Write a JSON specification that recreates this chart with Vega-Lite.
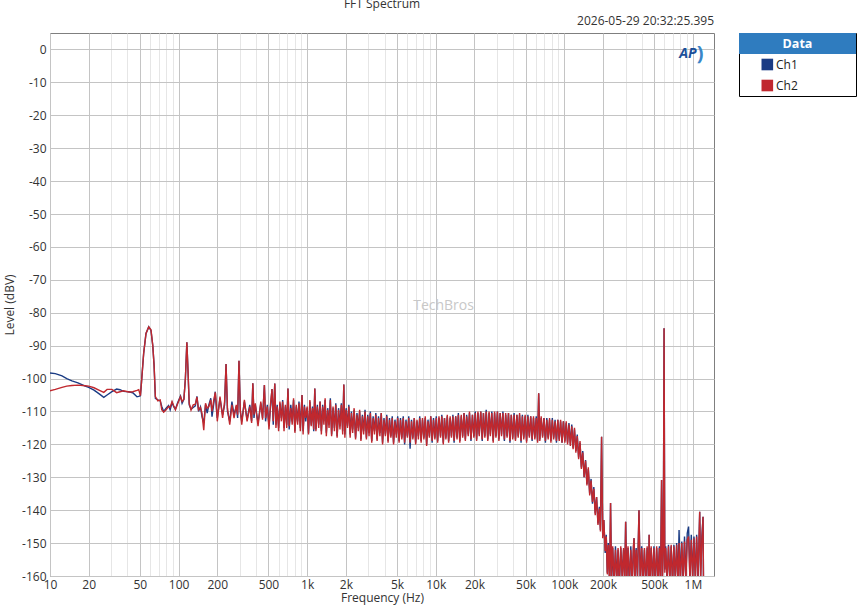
{
  "$schema": "https://vega.github.io/schema/vega-lite/v6.json",
  "background": "white",
  "padding": {"left": 3, "top": -3, "right": 4, "bottom": 2},
  "bounds": "flush",
  "spacing": 25,
  "config": {
    "font": "Open Sans",
    "view": {"stroke": "#7f7f7f", "strokeWidth": 1},
    "axis": {
      "labelFont": "Open Sans", "labelFontSize": 12, "labelColor": "#333",
      "titleFont": "Open Sans", "titleFontSize": 12, "titleFontWeight": "normal", "titleColor": "#333",
      "ticks": false, "domain": false, "gridOpacity": 1, "gridWidth": 1
    },
    "title": {"font": "Open Sans", "fontSize": 12, "fontWeight": "normal", "color": "#333"}
  },
  "datasets": {
    "fft": [
      {"f":10,"Ch1":-98.3,"Ch2":-103.7},{"f":11,"Ch1":-98.5,"Ch2":-103.3},{"f":12.4,"Ch1":-99.2,"Ch2":-102.7},
      {"f":13.5,"Ch1":-100,"Ch2":-102.3},{"f":14.8,"Ch1":-100.7,"Ch2":-102.1},{"f":16.5,"Ch1":-101.3,"Ch2":-102},
      {"f":18.8,"Ch1":-102.3,"Ch2":-102.2},{"f":20,"Ch1":-102.7,"Ch2":-102.3},{"f":22,"Ch1":-103.5,"Ch2":-102.8},
      {"f":24,"Ch1":-104.6,"Ch2":-103.5},{"f":26.2,"Ch1":-105.7,"Ch2":-104.2},{"f":27.8,"Ch1":-105,"Ch2":-103.3},
      {"f":30.3,"Ch1":-104,"Ch2":-103.3},{"f":33,"Ch1":-103.2,"Ch2":-104.3},{"f":35,"Ch1":-103.4,"Ch2":-104},
      {"f":37.4,"Ch1":-103.9,"Ch2":-103.7},{"f":41,"Ch1":-104,"Ch2":-104.1},{"f":44,"Ch1":-104.3,"Ch2":-104},
      {"f":47.5,"Ch1":-105.5,"Ch2":-103.6},{"f":49,"Ch1":-105.4,"Ch2":-103.4},{"f":50.5,"Ch1":-105.2,"Ch2":-105.2},
      {"f":51.5,"Ch1":-101,"Ch2":-101},{"f":53.5,"Ch1":-92.4,"Ch2":-92.4},{"f":55.8,"Ch1":-86.3,"Ch2":-86.3},
      {"f":58.6,"Ch1":-84.3,"Ch2":-84.3},{"f":61,"Ch1":-85.4,"Ch2":-85.2},{"f":63,"Ch1":-90,"Ch2":-90},
      {"f":64.5,"Ch1":-96,"Ch2":-96},{"f":66,"Ch1":-106,"Ch2":-105.5},{"f":69,"Ch1":-106.5,"Ch2":-106.8},
      {"f":72,"Ch1":-106.8,"Ch2":-106.5},{"f":74,"Ch1":-108.5,"Ch2":-109.5},{"f":76.6,"Ch1":-110,"Ch2":-110.2},
      {"f":80,"Ch1":-109,"Ch2":-109.5},{"f":83.6,"Ch1":-108.2,"Ch2":-108.5},{"f":86,"Ch1":-109.5,"Ch2":-108.8},
      {"f":89,"Ch1":-107.3,"Ch2":-107},{"f":91.5,"Ch1":-108.5,"Ch2":-108.2},{"f":94.5,"Ch1":-109.3,"Ch2":-109.5},
      {"f":98,"Ch1":-107.5,"Ch2":-107.8},{"f":103.5,"Ch1":-105.3,"Ch2":-105.5},{"f":106.5,"Ch1":-107.5,"Ch2":-107},
      {"f":110,"Ch1":-106.3,"Ch2":-106.3},{"f":113,"Ch1":-100,"Ch2":-100},{"f":116,"Ch1":-89,"Ch2":-89},
      {"f":118.5,"Ch1":-98,"Ch2":-98},{"f":121,"Ch1":-108,"Ch2":-107.5},{"f":125,"Ch1":-109.3,"Ch2":-109.6},
      {"f":130,"Ch1":-108.8,"Ch2":-108},{"f":135,"Ch1":-108.3,"Ch2":-107.8},{"f":139,"Ch1":-105.4,"Ch2":-105.6},
      {"f":143,"Ch1":-110,"Ch2":-109.5},{"f":148,"Ch1":-108.6,"Ch2":-108.8},{"f":152,"Ch1":-111.5,"Ch2":-110.5},
      {"f":157,"Ch1":-113.5,"Ch2":-115.7},{"f":162,"Ch1":-108,"Ch2":-107.5},{"f":167,"Ch1":-110.5,"Ch2":-109},
      {"f":172,"Ch1":-108,"Ch2":-108.5},{"f":178,"Ch1":-106,"Ch2":-106.5},{"f":182,"Ch1":-111.6,"Ch2":-110},
      {"f":188,"Ch1":-107.5,"Ch2":-106.5},{"f":193,"Ch1":-104,"Ch2":-104.2},{"f":197,"Ch1":-109.5,"Ch2":-108},
      {"f":200,"Ch1":-112,"Ch2":-113},{"f":210,"Ch1":-106,"Ch2":-105.5},{"f":220,"Ch1":-111,"Ch2":-112},
      {"f":228,"Ch1":-108,"Ch2":-107},{"f":234,"Ch1":-95.6,"Ch2":-95.6},{"f":240,"Ch1":-110,"Ch2":-109},
      {"f":250,"Ch1":-113,"Ch2":-114},{"f":260,"Ch1":-107,"Ch2":-108},{"f":270,"Ch1":-111,"Ch2":-112},
      {"f":281,"Ch1":-108.5,"Ch2":-108},{"f":288,"Ch1":-112,"Ch2":-111},{"f":295,"Ch1":-94.6,"Ch2":-94.6},
      {"f":302,"Ch1":-110,"Ch2":-109.5},{"f":310,"Ch1":-113,"Ch2":-114},{"f":325,"Ch1":-107,"Ch2":-106.5},
      {"f":341,"Ch1":-112.5,"Ch2":-113},{"f":358,"Ch1":-108,"Ch2":-108.5},{"f":370,"Ch1":-113,"Ch2":-113.5},
      {"f":378,"Ch1":-101.4,"Ch2":-101.4},{"f":386,"Ch1":-112,"Ch2":-111},{"f":395,"Ch1":-108,"Ch2":-107.5},
      {"f":415,"Ch1":-113.5,"Ch2":-114.5},{"f":436,"Ch1":-107.5,"Ch2":-107},{"f":450,"Ch1":-112,"Ch2":-112.5},
      {"f":465,"Ch1":-102,"Ch2":-102},{"f":475,"Ch1":-113,"Ch2":-112},{"f":490,"Ch1":-108,"Ch2":-108.5},
      {"f":505,"Ch1":-114.5,"Ch2":-115.5},{"f":518,"Ch1":-109,"Ch2":-108},{"f":533,"Ch1":-103.2,"Ch2":-103.2},
      {"f":545,"Ch1":-114,"Ch2":-113},{"f":560,"Ch1":-101.5,"Ch2":-101.5},{"f":572,"Ch1":-114,"Ch2":-115},
      {"f":585,"Ch1":-108,"Ch2":-108.5},{"f":600,"Ch1":-115,"Ch2":-116},{"f":614,"Ch1":-107.5,"Ch2":-107},
      {"f":630,"Ch1":-112,"Ch2":-113},{"f":645,"Ch1":-106.5,"Ch2":-107},{"f":661,"Ch1":-115,"Ch2":-116},
      {"f":677,"Ch1":-108.5,"Ch2":-108},{"f":694,"Ch1":-114,"Ch2":-115},{"f":709,"Ch1":-103,"Ch2":-103},
      {"f":725,"Ch1":-115.5,"Ch2":-114.5},{"f":746,"Ch1":-108,"Ch2":-109},{"f":765,"Ch1":-113,"Ch2":-114},
      {"f":784,"Ch1":-106.5,"Ch2":-106},{"f":803,"Ch1":-116,"Ch2":-116.5},{"f":823,"Ch1":-108.5,"Ch2":-108},
      {"f":843,"Ch1":-113,"Ch2":-114},{"f":864,"Ch1":-107,"Ch2":-107.5},{"f":885,"Ch1":-115,"Ch2":-116},
      {"f":912,"Ch1":-105,"Ch2":-105},{"f":930,"Ch1":-116,"Ch2":-117},{"f":952,"Ch1":-108,"Ch2":-108.5},
      {"f":975,"Ch1":-113,"Ch2":-112},{"f":1000,"Ch1":-109,"Ch2":-108.5},{"f":1025,"Ch1":-116.5,"Ch2":-117},
      {"f":1050,"Ch1":-107,"Ch2":-106.5},{"f":1075,"Ch1":-114,"Ch2":-114.5},{"f":1100,"Ch1":-108.5,"Ch2":-109},
      {"f":1125,"Ch1":-116,"Ch2":-115.5},{"f":1147,"Ch1":-103,"Ch2":-103},{"f":1170,"Ch1":-115.5,"Ch2":-116},
      {"f":1200,"Ch1":-108,"Ch2":-108.5},{"f":1230,"Ch1":-114,"Ch2":-115},{"f":1260,"Ch1":-107,"Ch2":-107},
      {"f":1290,"Ch1":-116,"Ch2":-117},{"f":1320,"Ch1":-108,"Ch2":-108.5},{"f":1350,"Ch1":-113,"Ch2":-114},
      {"f":1380,"Ch1":-106.5,"Ch2":-106},{"f":1410,"Ch1":-116.5,"Ch2":-117.5},{"f":1445,"Ch1":-109,"Ch2":-109.5},
      {"f":1480,"Ch1":-114,"Ch2":-115},{"f":1515,"Ch1":-106,"Ch2":-106.5},{"f":1550,"Ch1":-117,"Ch2":-117.5},
      {"f":1590,"Ch1":-109,"Ch2":-108.5},{"f":1630,"Ch1":-115,"Ch2":-116},{"f":1670,"Ch1":-107.5,"Ch2":-108},
      {"f":1710,"Ch1":-117.5,"Ch2":-118},{"f":1755,"Ch1":-109,"Ch2":-109.5},{"f":1800,"Ch1":-114.5,"Ch2":-115.5},
      {"f":1845,"Ch1":-107.5,"Ch2":-108},{"f":1890,"Ch1":-116,"Ch2":-117},{"f":1928,"Ch1":-101.8,"Ch2":-101.8},
      {"f":1965,"Ch1":-117,"Ch2":-118},{"f":2010,"Ch1":-109,"Ch2":-109.5},{"f":2060,"Ch1":-114.5,"Ch2":-115},
      {"f":2110,"Ch1":-108,"Ch2":-108.5},{"f":2160,"Ch1":-117,"Ch2":-118},{"f":2210,"Ch1":-110,"Ch2":-110.5},
      {"f":2260,"Ch1":-115.5,"Ch2":-116.5},{"f":2320,"Ch1":-109.5,"Ch2":-109},{"f":2380,"Ch1":-118,"Ch2":-118.5},
      {"f":2440,"Ch1":-110.5,"Ch2":-111},{"f":2500,"Ch1":-115,"Ch2":-116},{"f":2560,"Ch1":-110,"Ch2":-109.5},
      {"f":2620,"Ch1":-118.5,"Ch2":-119},{"f":2690,"Ch1":-111,"Ch2":-111.5},{"f":2750,"Ch1":-116,"Ch2":-117},
      {"f":2820,"Ch1":-109.5,"Ch2":-110},{"f":2890,"Ch1":-118,"Ch2":-118.5},{"f":2960,"Ch1":-111,"Ch2":-111.5},
      {"f":3030,"Ch1":-116.5,"Ch2":-117.5},{"f":3100,"Ch1":-110,"Ch2":-110.5},{"f":3180,"Ch1":-119,"Ch2":-119.5},
      {"f":3260,"Ch1":-111.5,"Ch2":-112},{"f":3340,"Ch1":-116,"Ch2":-117},{"f":3420,"Ch1":-110.5,"Ch2":-111},
      {"f":3500,"Ch1":-118.5,"Ch2":-119},{"f":3590,"Ch1":-111.5,"Ch2":-112},{"f":3680,"Ch1":-116.5,"Ch2":-117.5},
      {"f":3770,"Ch1":-110.5,"Ch2":-110.5},{"f":3860,"Ch1":-119.5,"Ch2":-120},{"f":3960,"Ch1":-112,"Ch2":-112.5},
      {"f":4060,"Ch1":-117,"Ch2":-117.5},{"f":4160,"Ch1":-111,"Ch2":-111.5},{"f":4260,"Ch1":-119,"Ch2":-119.5},
      {"f":4370,"Ch1":-112,"Ch2":-112.5},{"f":4480,"Ch1":-117.5,"Ch2":-118},{"f":4590,"Ch1":-111.5,"Ch2":-112},
      {"f":4700,"Ch1":-119.5,"Ch2":-120},{"f":4820,"Ch1":-112.5,"Ch2":-113},{"f":4940,"Ch1":-117,"Ch2":-118},
      {"f":5060,"Ch1":-111.5,"Ch2":-112},{"f":5190,"Ch1":-119,"Ch2":-119.5},{"f":5320,"Ch1":-112,"Ch2":-112.5},
      {"f":5450,"Ch1":-118,"Ch2":-118.5},{"f":5590,"Ch1":-111.5,"Ch2":-112},{"f":5730,"Ch1":-120,"Ch2":-119.5},
      {"f":5870,"Ch1":-112.5,"Ch2":-113},{"f":6020,"Ch1":-117.5,"Ch2":-118},{"f":6170,"Ch1":-111.5,"Ch2":-112},
      {"f":6320,"Ch1":-121.3,"Ch2":-119.5},{"f":6480,"Ch1":-112.5,"Ch2":-113},{"f":6640,"Ch1":-118,"Ch2":-118.5},
      {"f":6810,"Ch1":-112,"Ch2":-112},{"f":6980,"Ch1":-119.5,"Ch2":-120},{"f":7150,"Ch1":-113,"Ch2":-112.5},
      {"f":7330,"Ch1":-117.5,"Ch2":-118.5},{"f":7510,"Ch1":-111.5,"Ch2":-112},{"f":7700,"Ch1":-119,"Ch2":-119.5},
      {"f":7890,"Ch1":-112.5,"Ch2":-112},{"f":8090,"Ch1":-118,"Ch2":-118.5},{"f":8290,"Ch1":-112,"Ch2":-111.5},
      {"f":8500,"Ch1":-120,"Ch2":-120.5},{"f":8710,"Ch1":-112.5,"Ch2":-113},{"f":8930,"Ch1":-117.5,"Ch2":-118},
      {"f":9150,"Ch1":-111.5,"Ch2":-111.5},{"f":9380,"Ch1":-119.5,"Ch2":-119},{"f":9610,"Ch1":-112,"Ch2":-112.5},
      {"f":9850,"Ch1":-118,"Ch2":-118.5},{"f":10100,"Ch1":-111.5,"Ch2":-112},{"f":10350,"Ch1":-119,"Ch2":-119.5},
      {"f":10600,"Ch1":-112,"Ch2":-111.5},{"f":10900,"Ch1":-117.5,"Ch2":-118},{"f":11150,"Ch1":-111,"Ch2":-111.5},
      {"f":11450,"Ch1":-119.5,"Ch2":-120},{"f":11700,"Ch1":-112,"Ch2":-112},{"f":12000,"Ch1":-118,"Ch2":-118.5},
      {"f":12300,"Ch1":-111.5,"Ch2":-111},{"f":12600,"Ch1":-119,"Ch2":-119.5},{"f":12950,"Ch1":-112,"Ch2":-111.5},
      {"f":13250,"Ch1":-117.5,"Ch2":-118},{"f":13600,"Ch1":-111,"Ch2":-111.5},{"f":13900,"Ch1":-119.5,"Ch2":-119},
      {"f":14300,"Ch1":-111.5,"Ch2":-111.5},{"f":14650,"Ch1":-118,"Ch2":-118.5},{"f":15000,"Ch1":-110.5,"Ch2":-111},
      {"f":15400,"Ch1":-119,"Ch2":-119.5},{"f":15800,"Ch1":-111.5,"Ch2":-111},{"f":16200,"Ch1":-117.5,"Ch2":-118},
      {"f":16600,"Ch1":-110.5,"Ch2":-110.5},{"f":17000,"Ch1":-118.5,"Ch2":-119},{"f":17400,"Ch1":-111,"Ch2":-111.5},
      {"f":17900,"Ch1":-117,"Ch2":-117.5},{"f":18300,"Ch1":-110.5,"Ch2":-110},{"f":18800,"Ch1":-119,"Ch2":-118.5},
      {"f":19300,"Ch1":-111,"Ch2":-111},{"f":19800,"Ch1":-117.5,"Ch2":-118},{"f":20300,"Ch1":-110,"Ch2":-110.5},
      {"f":20800,"Ch1":-118.5,"Ch2":-119},{"f":21300,"Ch1":-110.5,"Ch2":-110},{"f":21800,"Ch1":-117,"Ch2":-117.5},
      {"f":22400,"Ch1":-110,"Ch2":-110},{"f":23000,"Ch1":-119,"Ch2":-118.5},{"f":23500,"Ch1":-110.5,"Ch2":-110.5},
      {"f":24100,"Ch1":-117.5,"Ch2":-118},{"f":24700,"Ch1":-109.5,"Ch2":-110},{"f":25400,"Ch1":-118.5,"Ch2":-119},
      {"f":26000,"Ch1":-110.5,"Ch2":-110},{"f":26600,"Ch1":-117,"Ch2":-117.5},{"f":27300,"Ch1":-110,"Ch2":-110.5},
      {"f":28000,"Ch1":-119,"Ch2":-119.5},{"f":28700,"Ch1":-110.5,"Ch2":-110},{"f":29400,"Ch1":-117.5,"Ch2":-118},
      {"f":30200,"Ch1":-110,"Ch2":-110},{"f":31000,"Ch1":-118.5,"Ch2":-119},{"f":31700,"Ch1":-110.5,"Ch2":-110.5},
      {"f":32500,"Ch1":-117,"Ch2":-117.5},{"f":33300,"Ch1":-110,"Ch2":-110.5},{"f":34200,"Ch1":-119,"Ch2":-118.5},
      {"f":35000,"Ch1":-111,"Ch2":-110.5},{"f":35900,"Ch1":-117.5,"Ch2":-118},{"f":36800,"Ch1":-110.5,"Ch2":-110.5},
      {"f":37800,"Ch1":-119.5,"Ch2":-119},{"f":38700,"Ch1":-111,"Ch2":-111},{"f":39700,"Ch1":-118,"Ch2":-118.5},
      {"f":40700,"Ch1":-110.5,"Ch2":-111},{"f":41700,"Ch1":-118.5,"Ch2":-119},{"f":42800,"Ch1":-111,"Ch2":-111},
      {"f":43800,"Ch1":-117.5,"Ch2":-118},{"f":44900,"Ch1":-111,"Ch2":-110.5},{"f":46100,"Ch1":-119.5,"Ch2":-119},
      {"f":47200,"Ch1":-111,"Ch2":-111.5},{"f":48400,"Ch1":-118,"Ch2":-118.5},{"f":49600,"Ch1":-111.5,"Ch2":-111},
      {"f":50900,"Ch1":-119,"Ch2":-119.5},{"f":52100,"Ch1":-111,"Ch2":-111.5},{"f":53500,"Ch1":-117.5,"Ch2":-118},
      {"f":54800,"Ch1":-111.5,"Ch2":-111.5},{"f":56200,"Ch1":-119,"Ch2":-118.5},{"f":57600,"Ch1":-112,"Ch2":-111.5},
      {"f":59000,"Ch1":-118,"Ch2":-118.5},{"f":60500,"Ch1":-111.5,"Ch2":-112},{"f":62000,"Ch1":-119,"Ch2":-119.5},
      {"f":63200,"Ch1":-104.5,"Ch2":-104.5},{"f":64500,"Ch1":-118.5,"Ch2":-119},{"f":66100,"Ch1":-112,"Ch2":-111.5},
      {"f":67800,"Ch1":-117.5,"Ch2":-118},{"f":69500,"Ch1":-112,"Ch2":-112},{"f":71300,"Ch1":-119.5,"Ch2":-119},
      {"f":73100,"Ch1":-112,"Ch2":-112.5},{"f":74900,"Ch1":-118,"Ch2":-118.5},{"f":76800,"Ch1":-112.5,"Ch2":-112},
      {"f":78700,"Ch1":-119,"Ch2":-119.5},{"f":80700,"Ch1":-112,"Ch2":-112.5},{"f":82700,"Ch1":-118,"Ch2":-118.5},
      {"f":84800,"Ch1":-112.5,"Ch2":-113},{"f":86900,"Ch1":-119.5,"Ch2":-119},{"f":89100,"Ch1":-112.5,"Ch2":-112.5},
      {"f":91300,"Ch1":-118.5,"Ch2":-119},{"f":93600,"Ch1":-113,"Ch2":-112.5},{"f":96000,"Ch1":-119.5,"Ch2":-119.5},
      {"f":98400,"Ch1":-113,"Ch2":-113},{"f":101000,"Ch1":-119,"Ch2":-119.5},{"f":103500,"Ch1":-113.5,"Ch2":-113},
      {"f":106000,"Ch1":-119.5,"Ch2":-120},{"f":108700,"Ch1":-113.5,"Ch2":-114},{"f":111500,"Ch1":-120,"Ch2":-120.5},
      {"f":114300,"Ch1":-114,"Ch2":-114.5},{"f":117100,"Ch1":-121,"Ch2":-121.5},{"f":120000,"Ch1":-115.5,"Ch2":-115},
      {"f":123000,"Ch1":-122,"Ch2":-122.5},{"f":126100,"Ch1":-117,"Ch2":-117.5},{"f":129300,"Ch1":-124,"Ch2":-124.5},
      {"f":132500,"Ch1":-119.5,"Ch2":-119},{"f":135800,"Ch1":-127,"Ch2":-127.5},{"f":139200,"Ch1":-122,"Ch2":-122.5},
      {"f":142700,"Ch1":-130,"Ch2":-130},{"f":146300,"Ch1":-124.8,"Ch2":-125},{"f":150000,"Ch1":-132,"Ch2":-132.5},
      {"f":153700,"Ch1":-127.5,"Ch2":-127},{"f":157600,"Ch1":-135,"Ch2":-135.5},{"f":161500,"Ch1":-130.5,"Ch2":-131},
      {"f":165600,"Ch1":-138,"Ch2":-137.5},{"f":169700,"Ch1":-133,"Ch2":-133.5},{"f":174000,"Ch1":-141,"Ch2":-141.5},
      {"f":178300,"Ch1":-136,"Ch2":-136},{"f":182800,"Ch1":-144,"Ch2":-144.5},{"f":187400,"Ch1":-139,"Ch2":-139.5},
      {"f":191000,"Ch1":-146,"Ch2":-146.5},{"f":195000,"Ch1":-117.7,"Ch2":-117.7},{"f":199000,"Ch1":-148,"Ch2":-148.5},
      {"f":203000,"Ch1":-143,"Ch2":-143},{"f":208000,"Ch1":-153,"Ch2":-152.5},{"f":212000,"Ch1":-147.5,"Ch2":-148},
      {"f":216000,"Ch1":-159,"Ch2":-159.5},{"f":220000,"Ch1":-150,"Ch2":-150.5},{"f":225000,"Ch1":-162,"Ch2":-163},
      {"f":229000,"Ch1":-137.8,"Ch2":-137.8},{"f":233000,"Ch1":-162,"Ch2":-161},{"f":238000,"Ch1":-151.5,"Ch2":-151},
      {"f":244000,"Ch1":-163,"Ch2":-162},{"f":250000,"Ch1":-151,"Ch2":-152},{"f":256000,"Ch1":-161,"Ch2":-162},
      {"f":262000,"Ch1":-152,"Ch2":-151.5},{"f":268000,"Ch1":-163,"Ch2":-163},{"f":275000,"Ch1":-151.5,"Ch2":-151},
      {"f":282000,"Ch1":-160,"Ch2":-161},{"f":289000,"Ch1":-152,"Ch2":-151.5},{"f":295000,"Ch1":-162,"Ch2":-163},
      {"f":300000,"Ch1":-143.5,"Ch2":-143.5},{"f":306000,"Ch1":-161,"Ch2":-162},{"f":313000,"Ch1":-151.5,"Ch2":-151},
      {"f":321000,"Ch1":-163,"Ch2":-162},{"f":329000,"Ch1":-151,"Ch2":-152},{"f":337000,"Ch1":-161.5,"Ch2":-162},
      {"f":345000,"Ch1":-151.5,"Ch2":-151},{"f":349000,"Ch1":-148.5,"Ch2":-148.5},{"f":353000,"Ch1":-162,"Ch2":-163},
      {"f":362000,"Ch1":-151.5,"Ch2":-152},{"f":371000,"Ch1":-161,"Ch2":-160},{"f":381000,"Ch1":-140,"Ch2":-140},
      {"f":390000,"Ch1":-162,"Ch2":-163},{"f":400000,"Ch1":-151,"Ch2":-151.5},{"f":410000,"Ch1":-161,"Ch2":-162},
      {"f":420000,"Ch1":-152,"Ch2":-151.5},{"f":430000,"Ch1":-163,"Ch2":-162},{"f":441000,"Ch1":-151.5,"Ch2":-151},
      {"f":452000,"Ch1":-161,"Ch2":-162},{"f":457000,"Ch1":-147.5,"Ch2":-147.5},{"f":463000,"Ch1":-162,"Ch2":-163},
      {"f":474000,"Ch1":-151.5,"Ch2":-151},{"f":486000,"Ch1":-161.5,"Ch2":-162},{"f":498000,"Ch1":-151,"Ch2":-151.5},
      {"f":510000,"Ch1":-163,"Ch2":-162},{"f":523000,"Ch1":-151.5,"Ch2":-151},{"f":536000,"Ch1":-161,"Ch2":-162},
      {"f":549000,"Ch1":-151,"Ch2":-151.5},{"f":560000,"Ch1":-162,"Ch2":-163},{"f":571000,"Ch1":-130.8,"Ch2":-130.8},
      {"f":580000,"Ch1":-160,"Ch2":-161},{"f":589000,"Ch1":-151.5,"Ch2":-152},{"f":597000,"Ch1":-84.7,"Ch2":-84.7},
      {"f":605000,"Ch1":-158,"Ch2":-159},{"f":615000,"Ch1":-151,"Ch2":-151.5},{"f":630000,"Ch1":-162,"Ch2":-161},
      {"f":646000,"Ch1":-150.5,"Ch2":-151},{"f":662000,"Ch1":-161,"Ch2":-162},{"f":678000,"Ch1":-151,"Ch2":-150.5},
      {"f":695000,"Ch1":-162,"Ch2":-163},{"f":712000,"Ch1":-150.5,"Ch2":-151},{"f":730000,"Ch1":-161.5,"Ch2":-161},
      {"f":748000,"Ch1":-150,"Ch2":-150.5},{"f":766000,"Ch1":-162,"Ch2":-162.5},{"f":781000,"Ch1":-146,"Ch2":-150},
      {"f":800000,"Ch1":-161,"Ch2":-162},{"f":820000,"Ch1":-149.5,"Ch2":-150},{"f":840000,"Ch1":-162,"Ch2":-161},
      {"f":861000,"Ch1":-148,"Ch2":-149.5},{"f":882000,"Ch1":-161,"Ch2":-162},{"f":904000,"Ch1":-147,"Ch2":-149},
      {"f":926000,"Ch1":-145,"Ch2":-148},{"f":949000,"Ch1":-161,"Ch2":-161.5},{"f":972000,"Ch1":-147.5,"Ch2":-149},
      {"f":996000,"Ch1":-160,"Ch2":-161},{"f":1020000,"Ch1":-148,"Ch2":-148.5},{"f":1045000,"Ch1":-161,"Ch2":-162},
      {"f":1070000,"Ch1":-147.5,"Ch2":-148},{"f":1097000,"Ch1":-162,"Ch2":-161},{"f":1130000,"Ch1":-140.5,"Ch2":-140.5},
      {"f":1150000,"Ch1":-160,"Ch2":-161},{"f":1175000,"Ch1":-148,"Ch2":-149},{"f":1200000,"Ch1":-142,"Ch2":-142},
      {"f":1210000,"Ch1":-163,"Ch2":-163}
    ]
  },
  "hconcat": [
    {
      "width": 664,
      "height": 543,
      "title": {"text": "FFT Spectrum", "anchor": "middle", "offset": 4},
      "resolve": {"axis": {"x": "independent", "y": "independent"}},
      "layer": [
        {
          "data": {"name": "fft"},
          "transform": [{"fold": ["Ch1", "Ch2"], "as": ["ch", "v"]}],
          "mark": {"type": "line", "clip": true, "strokeWidth": 1.4},
          "encoding": {
            "x": {
              "field": "f", "type": "quantitative",
              "scale": {"type": "log", "domain": [10, 1460000], "nice": false},
              "axis": {
                "orient": "bottom", "title": "Frequency (Hz)",
                "values": [10, 20, 50, 100, 200, 500, 1000, 2000, 5000, 10000, 20000, 50000, 100000, 200000, 500000, 1000000],
                "labelExpr": "datum.value >= 1000000 ? (datum.value / 1000000) + 'M' : datum.value >= 1000 ? (datum.value / 1000) + 'k' : '' + datum.value",
                "labelFlush": false, "labelOverlap": false, "labelPadding": 3, "titlePadding": 2,
                "grid": true, "gridColor": "#c4c4c4"
              }
            },
            "y": {
              "field": "v", "type": "quantitative",
              "scale": {"domain": [-160, 5], "nice": false, "zero": false},
              "axis": {
                "orient": "left", "title": "Level (dBV)",
                "values": [-160, -150, -140, -130, -120, -110, -100, -90, -80, -70, -60, -50, -40, -30, -20, -10, 0],
                "labelExpr": "'' + datum.value", "labelPadding": 4, "titlePadding": 5,
                "grid": true, "gridColor": "#c4c4c4"
              }
            },
            "color": {
              "field": "ch", "type": "nominal",
              "scale": {"domain": ["Ch1", "Ch2"], "range": ["#1b3c84", "#c0282e"]},
              "legend": null
            }
          }
        },
        {
          "data": {"values": [{"t": "2026-05-29 20:32:25.395"}]},
          "mark": {"type": "text", "align": "right", "baseline": "bottom", "dy": -5, "fontSize": 12, "color": "#333"},
          "encoding": {
            "x": {
              "datum": 1460000, "type": "quantitative",
              "axis": {
                "orient": "bottom", "title": null, "labels": false, "grid": true, "gridColor": "#e6e6e6",
                "values": [30, 40, 60, 70, 80, 90, 300, 400, 600, 700, 800, 900, 3000, 4000, 6000, 7000, 8000, 9000, 30000, 40000, 60000, 70000, 80000, 90000, 300000, 400000, 600000, 700000, 800000, 900000]
              }
            },
            "y": {"datum": 5, "type": "quantitative", "axis": null},
            "text": {"field": "t"}
          }
        },
        {
          "data": {"values": [{"t": "TechBros"}]},
          "mark": {"type": "text", "fontSize": 14, "color": "#c8c8c8"},
          "encoding": {
            "x": {"datum": 11500, "type": "quantitative", "axis": null},
            "y": {"datum": -78, "type": "quantitative", "axis": null},
            "text": {"field": "t"}
          }
        },
        {
          "data": {"values": [{"t": "AP"}]},
          "mark": {"type": "text", "fontSize": 14, "fontWeight": "bold", "fontStyle": "italic", "color": "#1b4f99"},
          "encoding": {
            "x": {"datum": 914000, "type": "quantitative", "axis": null},
            "y": {"datum": -1.5, "type": "quantitative", "axis": null},
            "text": {"field": "t"}
          }
        },
        {
          "data": {"values": [{"t": ")"}]},
          "mark": {"type": "text", "fontSize": 20, "fontWeight": "bold", "color": "#3a86c8"},
          "encoding": {
            "x": {"datum": 1140000, "type": "quantitative", "axis": null},
            "y": {"datum": -1.5, "type": "quantitative", "axis": null},
            "text": {"field": "t"}
          }
        }
      ]
    },
    {
      "width": 117,
      "height": 63,
      "view": {"stroke": "#000000", "strokeWidth": 1, "fill": "white"},
      "data": {"values": [{"k": "Data"}, {"k": "Ch1"}, {"k": "Ch2"}]},
      "encoding": {
        "y": {"field": "k", "type": "nominal", "scale": {"domain": ["Data", "Ch1", "Ch2"], "paddingInner": 0, "paddingOuter": 0}, "axis": null}
      },
      "layer": [
        {
          "transform": [{"filter": "datum.k === 'Data'"}],
          "mark": {"type": "rect", "color": "#2f7cbf"}
        },
        {
          "transform": [{"filter": "datum.k === 'Data'"}],
          "mark": {"type": "text", "color": "white", "fontWeight": "bold", "fontSize": 12.5},
          "encoding": {"text": {"field": "k"}}
        },
        {
          "transform": [{"filter": "datum.k !== 'Data'"}],
          "mark": {"type": "point", "shape": "square", "filled": true, "size": 135, "opacity": 1},
          "encoding": {
            "x": {"datum": 0.242, "type": "quantitative", "scale": {"domain": [0, 1], "nice": false}, "axis": null},
            "color": {"field": "k", "type": "nominal", "scale": {"domain": ["Ch1", "Ch2"], "range": ["#173a7e", "#c8262a"]}, "legend": null}
          }
        },
        {
          "transform": [{"filter": "datum.k !== 'Data'"}],
          "mark": {"type": "text", "align": "left", "fontSize": 12, "color": "#222"},
          "encoding": {
            "x": {"datum": 0.316, "type": "quantitative", "axis": null},
            "text": {"field": "k"}
          }
        }
      ]
    }
  ]
}
